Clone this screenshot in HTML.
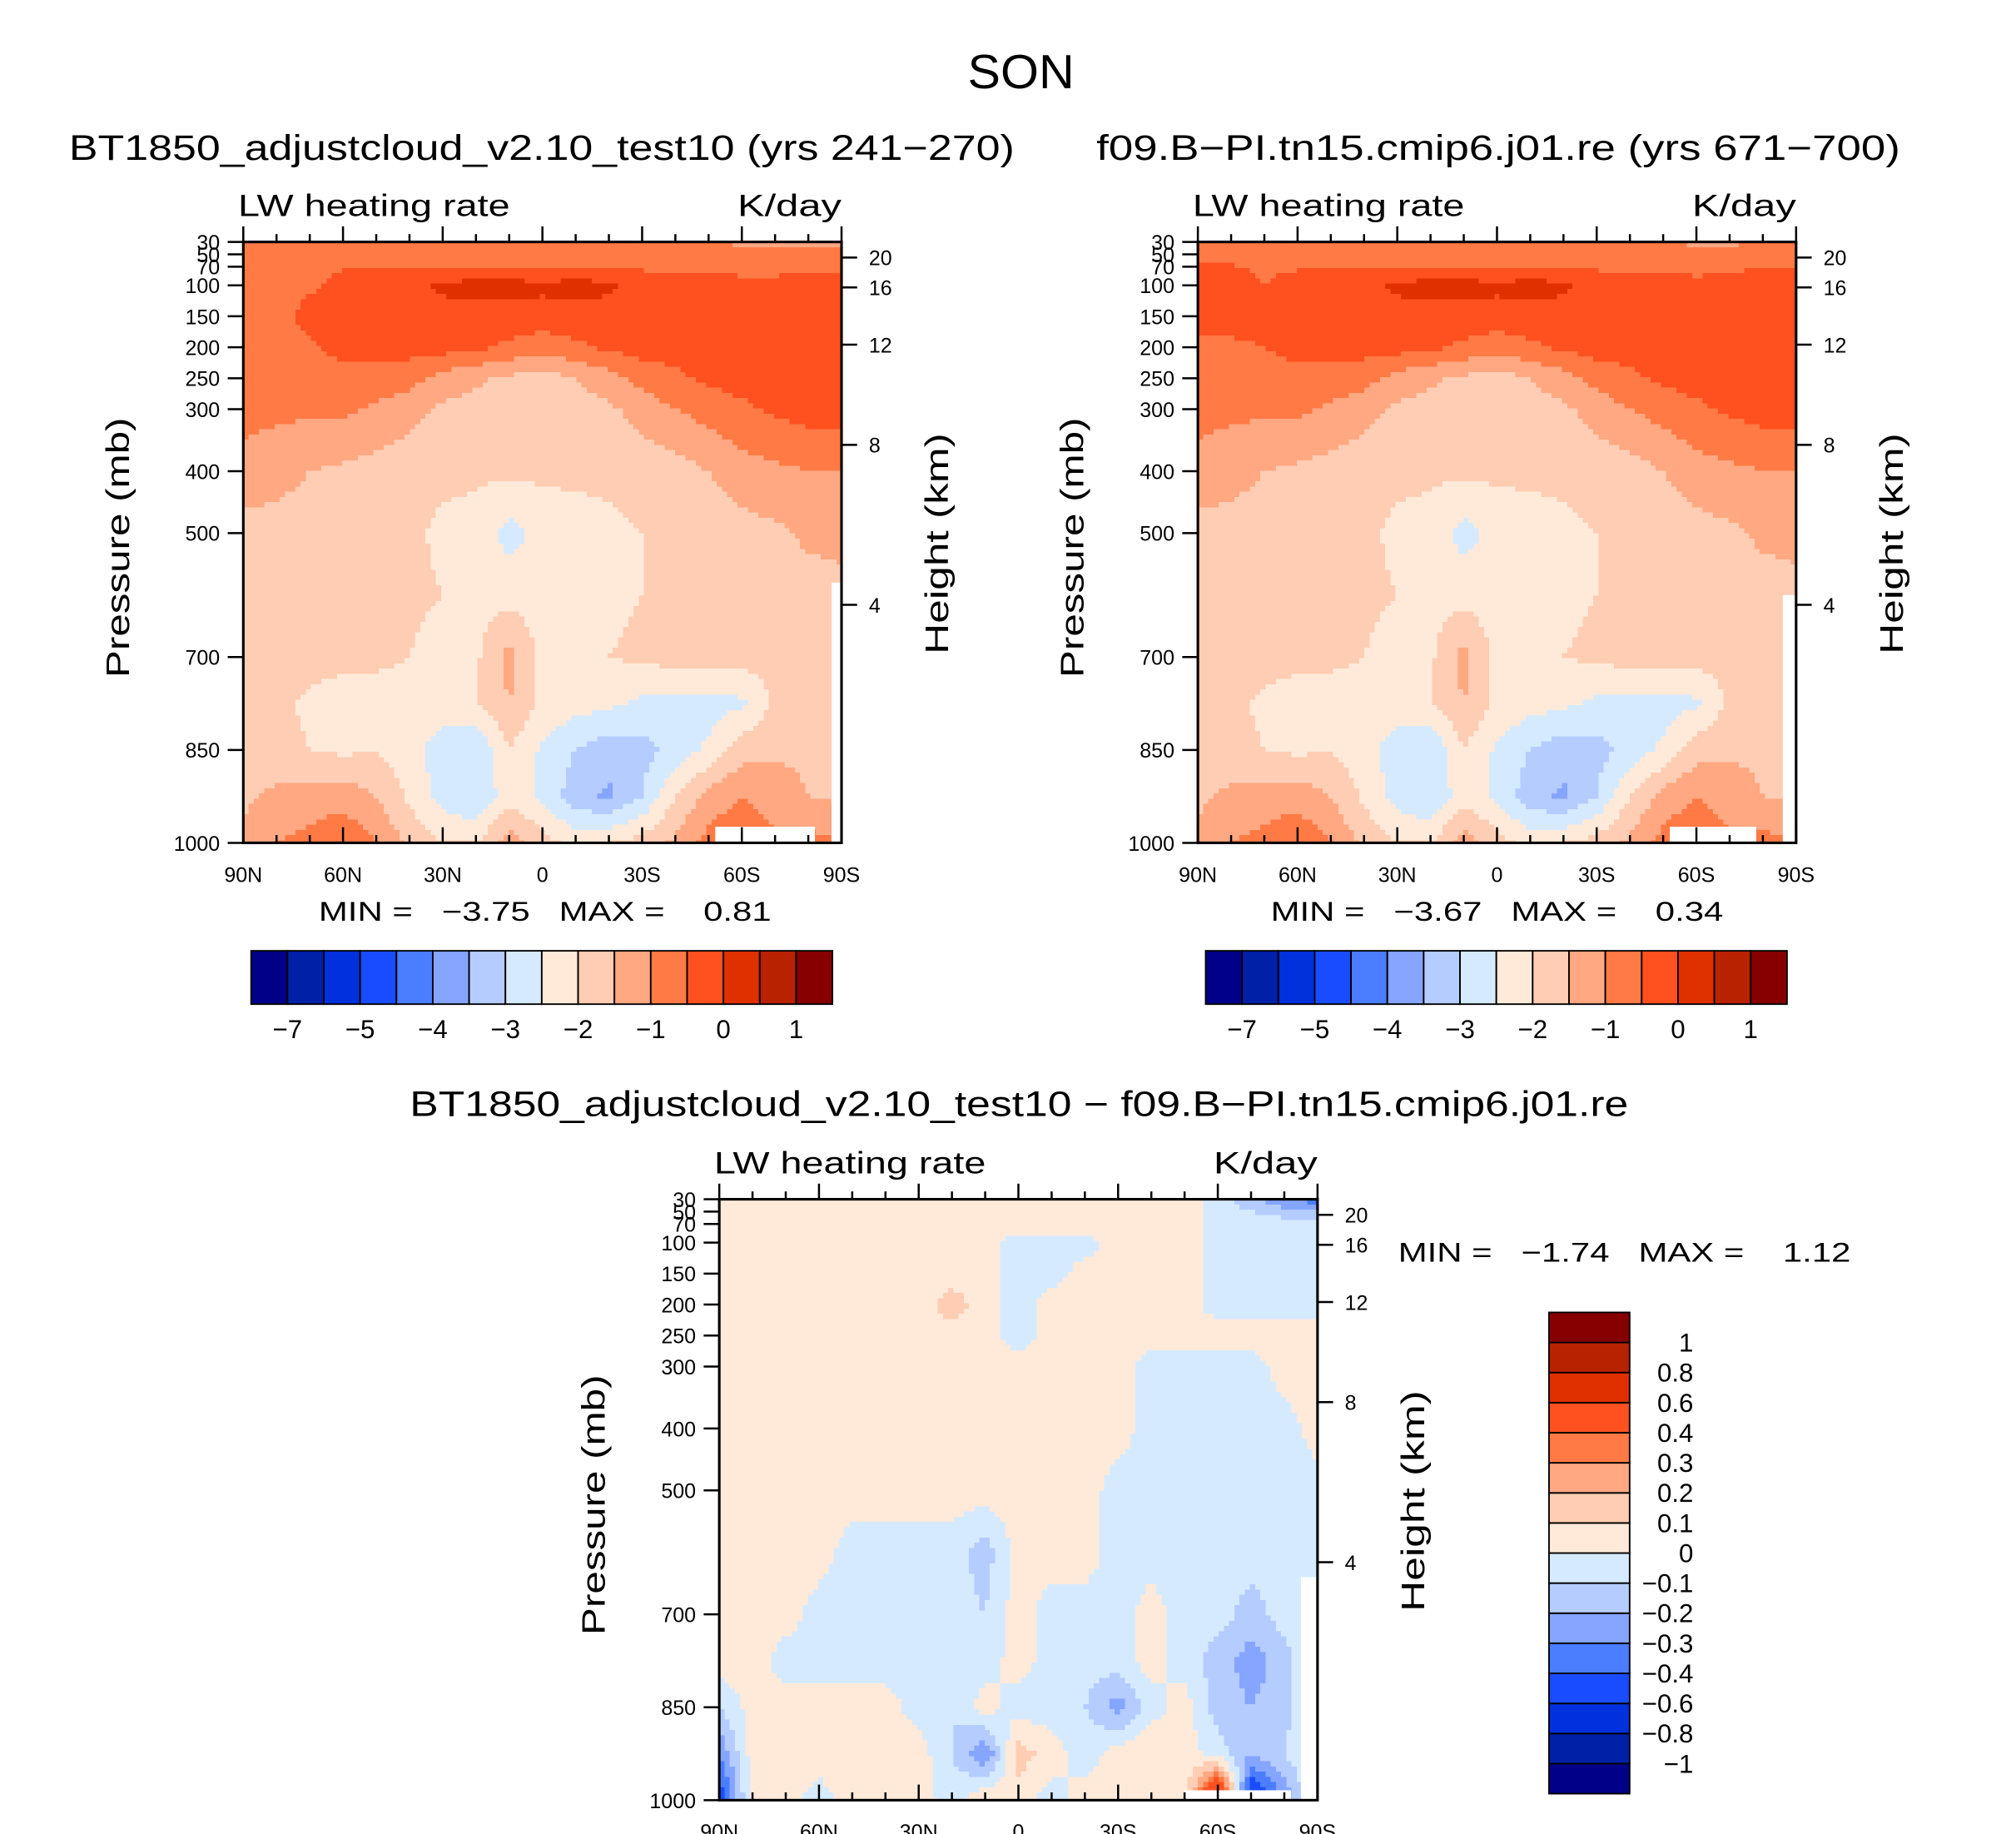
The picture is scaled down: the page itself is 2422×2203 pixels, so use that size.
<!DOCTYPE html>
<html><head><meta charset="utf-8"><style>
html,body{margin:0;padding:0;background:#fff}
svg{display:block}
text{font-family:"Liberation Sans",sans-serif;fill:#000}
.pre{white-space:pre}
</style></head><body>
<svg id="fig" width="2422" height="2203" viewBox="0 0 1550 1410" xmlns="http://www.w3.org/2000/svg">
<rect width="1550" height="1410" fill="#fff"/>
<text x="744" y="68" font-size="37" textLength="82" lengthAdjust="spacingAndGlyphs">SON</text>
<g id="root"></g>
</svg>
<script>
const lats=[90,80,70,60,50,40,30,20,10,0,-10,-20,-30,-40,-50,-60,-70,-80,-90];
const plevs=[30,50,70,100,150,200,250,300,400,500,600,700,775,850,925,1000];
const colors=["#000088","#0020a8","#0031dc","#1a4cff","#4a7dff","#85a5ff","#b4ccff","#d6eaff","#ffeada","#ffcdb3","#ffa882","#ff7a45","#ff5020","#e03000","#b82200","#870000"];
const levelsAbs=[-7,-6,-5,-4.5,-4,-3.5,-3,-2.5,-2,-1.5,-1,-0.5,0,0.5,1];
const absLabels=["−7","−5","−4","−3","−2","−1","0","1"];
const levelsDiff=[-1,-0.8,-0.6,-0.4,-0.3,-0.2,-0.1,0,0.1,0.2,0.3,0.4,0.6,0.8,1];
const diffLabels=["−1","−0.8","−0.6","−0.4","−0.3","−0.2","−0.1","0","0.1","0.2","0.3","0.4","0.6","0.8","1"];
const pTicks=[30,50,70,100,150,200,250,300,400,500,700,850,1000];
const hTicks=[[20,198],[16,221],[12,265],[8,342],[4,465]];
const latTickLabels=["90N","60N","30N","0","30S","60S","90S"];
// panel 1 field (K/day), rows = plevs, cols = lats
const fieldA=[
[-0.8,-0.8,-0.8,-0.8,-0.8,-0.8,-0.8,-0.8,-0.8,-0.8,-0.8,-0.8,-0.8,-0.8,-0.9,-1.1,-1.1,-1.1,-1.1],
[-0.7,-0.7,-0.7,-0.7,-0.7,-0.7,-0.7,-0.7,-0.7,-0.7,-0.7,-0.7,-0.7,-0.7,-0.8,-0.9,-0.9,-0.8,-0.8],
[-0.7,-0.7,-0.7,-0.55,-0.55,-0.55,-0.5,-0.5,-0.5,-0.5,-0.5,-0.5,-0.55,-0.6,-0.6,-0.7,-0.7,-0.6,-0.6],
[-0.7,-0.7,-0.6,-0.3,-0.3,-0.2,0.1,0.2,0.2,0.1,0.2,0.1,-0.3,-0.3,-0.3,-0.3,-0.3,-0.3,-0.3],
[-0.7,-0.7,-0.3,-0.3,-0.3,-0.2,-0.2,-0.2,-0.2,-0.2,-0.2,-0.2,-0.2,-0.3,-0.3,-0.3,-0.3,-0.3,-0.3],
[-0.7,-0.7,-0.6,-0.3,-0.3,-0.3,-0.3,-0.4,-0.6,-0.8,-0.6,-0.4,-0.3,-0.3,-0.3,-0.3,-0.3,-0.3,-0.3],
[-0.8,-0.8,-0.8,-0.7,-0.7,-0.8,-1.2,-1.4,-1.6,-1.7,-1.5,-1.2,-0.8,-0.6,-0.4,-0.3,-0.3,-0.3,-0.3],
[-0.8,-0.9,-0.9,-0.9,-1.1,-1.3,-1.6,-1.7,-1.8,-1.8,-1.7,-1.6,-1.3,-1.0,-0.8,-0.6,-0.4,-0.3,-0.3],
[-1.2,-1.3,-1.5,-1.6,-1.7,-1.8,-1.9,-1.9,-1.9,-1.9,-1.9,-1.9,-1.8,-1.7,-1.5,-1.2,-1.1,-1.0,-1.0],
[-1.7,-1.7,-1.8,-1.8,-1.8,-1.9,-2.1,-2.2,-2.7,-2.3,-2.2,-2.1,-2.0,-1.9,-1.8,-1.7,-1.6,-1.4,-1.4],
[-1.8,-1.8,-1.8,-1.8,-1.8,-1.9,-2.0,-2.2,-2.2,-2.2,-2.2,-2.1,-2.0,-1.9,-1.8,-1.8,-1.8,-1.7,-1.6],
[-1.8,-1.8,-1.8,-1.9,-1.9,-2.0,-2.2,-2.1,-1.3,-2.2,-2.1,-2.0,-1.9,-1.8,-1.8,-1.8,-1.8,-1.8,-1.8],
[-1.8,-1.9,-2.1,-2.2,-2.2,-2.2,-2.2,-2.0,-1.5,-2.1,-2.3,-2.4,-2.6,-2.7,-2.7,-2.6,-1.9,-1.8,-1.8],
[-1.7,-1.8,-2.0,-2.1,-2.0,-2.3,-2.8,-3.0,-2.0,-2.6,-3.0,-3.3,-3.2,-2.8,-2.4,-1.7,-1.6,-1.6,-1.6],
[-1.6,-1.4,-1.3,-1.2,-1.5,-2.1,-2.7,-3.0,-2.2,-2.6,-3.3,-3.6,-3.0,-2.0,-1.3,-1.0,-1.2,-1.5,-1.6],
[-1.4,-1.0,-0.8,-0.6,-1.0,-1.6,-2.0,-2.0,-1.2,-1.8,-2.2,-2.0,-1.8,-1.4,-0.8,-0.6,-0.9,-0.8,-1.0]];
// panel 2 field (K/day)
const fieldB=[
[-0.8,-0.8,-0.8,-0.8,-0.8,-0.8,-0.8,-0.8,-0.8,-0.8,-0.8,-0.8,-0.8,-0.8,-0.9,-1.1,-1.1,-0.9,-0.8],
[-0.7,-0.7,-0.7,-0.7,-0.7,-0.7,-0.7,-0.7,-0.7,-0.7,-0.7,-0.7,-0.7,-0.7,-0.8,-0.9,-0.8,-0.7,-0.7],
[-0.45,-0.45,-0.6,-0.55,-0.55,-0.55,-0.5,-0.5,-0.5,-0.5,-0.5,-0.5,-0.55,-0.6,-0.6,-0.7,-0.6,-0.5,-0.5],
[-0.3,-0.3,-0.5,-0.3,-0.3,-0.2,0.1,0.2,0.2,0.1,0.2,0.1,-0.3,-0.3,-0.3,-0.3,-0.3,-0.3,-0.3],
[-0.3,-0.3,-0.3,-0.3,-0.3,-0.2,-0.2,-0.2,-0.2,-0.2,-0.2,-0.2,-0.2,-0.3,-0.3,-0.3,-0.3,-0.3,-0.3],
[-0.6,-0.6,-0.5,-0.3,-0.3,-0.3,-0.3,-0.4,-0.6,-0.8,-0.6,-0.4,-0.3,-0.3,-0.3,-0.3,-0.3,-0.3,-0.3],
[-0.8,-0.8,-0.8,-0.7,-0.7,-0.8,-1.2,-1.4,-1.6,-1.7,-1.5,-1.2,-0.8,-0.6,-0.4,-0.3,-0.3,-0.3,-0.3],
[-0.8,-0.9,-0.9,-0.9,-1.1,-1.3,-1.6,-1.7,-1.8,-1.8,-1.7,-1.6,-1.3,-1.0,-0.8,-0.6,-0.4,-0.3,-0.3],
[-1.2,-1.3,-1.5,-1.6,-1.7,-1.8,-1.9,-1.9,-1.9,-1.9,-1.9,-1.9,-1.8,-1.7,-1.5,-1.2,-1.1,-1.0,-1.0],
[-1.7,-1.7,-1.8,-1.8,-1.8,-1.9,-2.1,-2.2,-2.7,-2.3,-2.2,-2.1,-2.0,-1.9,-1.8,-1.7,-1.6,-1.4,-1.4],
[-1.8,-1.8,-1.8,-1.8,-1.8,-1.9,-2.0,-2.2,-2.2,-2.2,-2.2,-2.1,-2.0,-1.9,-1.8,-1.8,-1.8,-1.7,-1.6],
[-1.8,-1.8,-1.8,-1.9,-1.9,-2.0,-2.2,-2.1,-1.3,-2.2,-2.1,-2.0,-1.9,-1.8,-1.8,-1.8,-1.8,-1.8,-1.8],
[-1.8,-1.9,-2.1,-2.2,-2.2,-2.2,-2.2,-2.0,-1.5,-2.1,-2.3,-2.4,-2.6,-2.7,-2.7,-2.6,-1.9,-1.8,-1.8],
[-1.7,-1.8,-2.0,-2.1,-2.0,-2.3,-2.8,-3.0,-2.0,-2.6,-3.0,-3.3,-3.2,-2.8,-2.4,-1.7,-1.6,-1.6,-1.6],
[-1.6,-1.4,-1.3,-1.2,-1.5,-2.1,-2.7,-3.0,-2.2,-2.6,-3.3,-3.6,-3.0,-2.0,-1.3,-1.0,-1.2,-1.5,-1.6],
[-1.4,-1.0,-0.8,-0.6,-1.0,-1.6,-2.0,-2.0,-1.2,-1.8,-2.2,-2.0,-1.8,-1.4,-0.8,-0.6,-0.9,-0.8,-1.0]];
// difference field (K/day)
const fieldD=[
[0.05,0.05,0.05,0.05,0.05,0.05,0.05,0.05,0.05,0.05,0.05,0.05,0.05,0.05,0.05,-0.05,-0.15,-0.3,-0.35],
[0.05,0.05,0.05,0.05,0.05,0.05,0.05,0.05,0.05,0.05,0.05,0.05,0.05,0.05,0.05,-0.05,-0.1,-0.15,-0.2],
[0.05,0.05,0.05,0.05,0.05,0.05,0.05,0.05,0.05,0.05,0.05,0.05,0.05,0.05,0.05,-0.05,-0.05,-0.05,-0.05],
[0.05,0.05,0.05,0.05,0.05,0.05,0.05,0.05,0.05,-0.05,-0.05,-0.05,0.05,0.05,0.05,-0.05,-0.05,-0.05,-0.05],
[0.05,0.05,0.05,0.05,0.05,0.05,0.05,0.05,0.05,-0.05,-0.05,0.05,0.05,0.05,0.05,-0.05,-0.05,-0.05,-0.05],
[0.05,0.05,0.05,0.05,0.05,0.05,0.05,0.15,0.05,-0.05,0.05,0.05,0.05,0.05,0.05,-0.05,-0.05,-0.05,-0.05],
[0.05,0.05,0.05,0.05,0.05,0.05,0.05,0.05,0.05,-0.05,0.05,0.05,0.05,0.05,0.05,0.05,0.05,0.05,0.05],
[0.05,0.05,0.05,0.05,0.05,0.05,0.05,0.05,0.05,0.05,0.05,0.05,0.05,-0.05,-0.05,-0.05,-0.05,0.05,0.05],
[0.05,0.05,0.05,0.05,0.05,0.05,0.05,0.05,0.05,0.05,0.05,0.05,0.05,-0.05,-0.05,-0.05,-0.05,-0.05,0.05],
[0.05,0.05,0.05,0.05,0.05,0.05,0.05,0.05,0.05,0.05,0.05,0.05,-0.05,-0.05,-0.05,-0.05,-0.05,-0.05,-0.05],
[0.05,0.05,0.05,0.05,-0.05,-0.05,-0.05,-0.05,-0.15,0.05,0.05,0.05,-0.05,-0.05,-0.05,-0.05,-0.05,-0.05,-0.05],
[0.05,0.05,0.05,-0.05,-0.05,-0.05,-0.05,-0.05,-0.1,0.05,-0.05,-0.05,-0.05,0.05,-0.05,-0.05,-0.15,-0.05,-0.05],
[0.05,0.05,-0.05,-0.05,-0.05,-0.05,-0.05,-0.05,-0.05,0.05,-0.05,-0.05,-0.05,0.05,-0.05,-0.15,-0.25,-0.15,0.05],
[-0.1,0.05,0.05,0.05,0.05,0.05,-0.05,-0.1,0.05,-0.05,-0.05,-0.1,-0.25,-0.05,0.05,-0.15,-0.2,-0.15,0.05],
[-0.3,0.05,0.05,0.05,0.1,0.05,0.05,-0.1,-0.3,0.15,0.05,-0.05,0.05,0.1,0.05,-0.05,-0.2,-0.1,0.05],
[-0.5,0.05,0.05,-0.05,0.05,0.1,0.05,-0.05,0.1,0.05,-0.05,0.05,0.05,0.05,0.05,0.8,-0.6,-0.3,0.05]];

const NS="http://www.w3.org/2000/svg";
const root=document.getElementById('root');
function mk(tag,attrs,parent,txt){const e=document.createElementNS(NS,tag);for(const k in attrs)e.setAttribute(k,attrs[k]);if(txt!==undefined)e.textContent=txt;(parent||root).appendChild(e);return e;}
function colorIdx(v,levels){let i=0;while(i<levels.length&&v>=levels[i])i++;return i;}
function sample(field,latv,p){
  let fi=(90-latv)/10;fi=Math.max(0,Math.min(17.9999,fi));const i0=Math.floor(fi),fx=fi-i0;
  let j0=0;while(j0<plevs.length-2&&p>plevs[j0+1])j0++;
  let fy=(p-plevs[j0])/(plevs[j0+1]-plevs[j0]);fy=Math.max(0,Math.min(1,fy));
  const a=field[j0][i0],b=field[j0][i0+1],c=field[j0+1][i0],d=field[j0+1][i0+1];
  return (a*(1-fx)+b*fx)*(1-fy)+(c*(1-fx)+d*fx)*fy;
}
function panel(name,x0,y0,field,levels,opts){
  const W=460,H=462;
  const g=mk('g',{});
  
  
  const xs=lat=>x0+(90-lat)/180*W;
  const ys=p=>y0+(p-30)/970*H;
  const step=4;
  const fg=mk('g',{'shape-rendering':'crispEdges'},g);
  
  
  for(let py=0;py<H;py+=step){
    const p=30+(py+step/2)/H*970;
    let runStart=0,runC=-1;
    for(let px=0;px<=W;px+=step){
      let c=-2;
      if(px<W){const lat=90-(px+step/2)/W*180;c=colorIdx(sample(field,lat,p),levels);}
      if(c!==runC){
        if(runC>=0){const r=mk('rect',{x:x0+runStart,y:y0+py,width:Math.min(px,W)-runStart+0.6,height:Math.min(step,H-py)+0.6,fill:colors[runC]},fg);
          
          }
        runStart=px;runC=c;}
    }
  }
  (opts.masks||[]).forEach(m=>{const r=mk('rect',{x:xs(m[0]),y:ys(m[2]),width:xs(m[1])-xs(m[0]),height:ys(1000)-ys(m[2]),fill:'#fff'},g);
    
    });
  const fr=mk('rect',{x:x0,y:y0,width:W,height:H,fill:'none',stroke:'#000','stroke-width':2},g);
  
  
  for(let lat=90;lat>=-90;lat-=10){
    const major=lat%30===0,len=major?12:6,x=xs(lat);
    mk('line',{x1:x,x2:x,y1:y0+H,y2:y0+H-len,stroke:'#000','stroke-width':1.6},g);
    mk('line',{x1:x,x2:x,y1:y0,y2:y0-len,stroke:'#000','stroke-width':1.6},g);
  }
  latTickLabels.forEach((t,i)=>{const e=mk('text',{x:xs(90-30*i),y:y0+H+30,'font-size':16,'text-anchor':'middle'},g,t);
    
    });
  pTicks.forEach(p=>{const y=ys(p);mk('line',{x1:x0,x2:x0-12,y1:y,y2:y,stroke:'#000','stroke-width':1.6},g);
    const e=mk('text',{x:x0-18,y:y+6,'font-size':16,'text-anchor':'end'},g,String(p));
    
    });
  hTicks.forEach(h=>{const y=y0+(h[1]-186);mk('line',{x1:x0+W,x2:x0+W+12,y1:y,y2:y,stroke:'#000','stroke-width':1.6},g);
    const e=mk('text',{x:x0+W+21,y:y+6,'font-size':16},g,String(h[0]));
    
    });
  let e=mk('text',{x:x0-4,y:y0-20,'font-size':24,textLength:209,lengthAdjust:'spacingAndGlyphs'},g,'LW heating rate');
  
  
  e=mk('text',{x:x0+W-80,y:y0-20,'font-size':24,textLength:80,lengthAdjust:'spacingAndGlyphs'},g,'K/day');
  
  
  e=mk('text',{x:-100,y:0,'font-size':25,textLength:200,lengthAdjust:'spacingAndGlyphs',transform:`translate(${x0-88},${y0+235}) rotate(-90)`},g,'Pressure  (mb)');
  
  
  e=mk('text',{x:-85,y:0,'font-size':25,textLength:170,lengthAdjust:'spacingAndGlyphs',transform:`translate(${x0+W+82},${y0+232}) rotate(-90)`},g,'Height  (km)');
  
  
  e=mk('text',{x:opts.tx,y:opts.ty,'font-size':27,textLength:opts.tw,lengthAdjust:'spacingAndGlyphs'},g,opts.title);
  
  
  e=mk('text',{x:opts.mx,y:opts.my,'font-size':21,'class':'pre',textLength:348,lengthAdjust:'spacingAndGlyphs'},g,opts.minmax);
  
  
}
function hbar(name,x0,y0){
  const g=mk('g',{});
  
  
  const bw=447/16;
  colors.forEach((c,i)=>{const r=mk('rect',{x:x0+i*bw,y:y0,width:bw,height:41,fill:c,stroke:'#000','stroke-width':1.2},g);
    
    });
  absLabels.forEach((t,k)=>{const i=2*k+1;const e=mk('text',{x:x0+i*bw,y:y0+67,'font-size':20,'text-anchor':'middle'},g,t);
    
    });
}
function vbar(name,x0,y0){
  const g=mk('g',{});
  
  
  const bh=370/16;
  colors.forEach((c,i)=>{const r=mk('rect',{x:x0,y:y0+(15-i)*bh,width:62,height:bh,fill:c,stroke:'#000','stroke-width':1.2},g);
    
    });
  diffLabels.forEach((t,i)=>{const e=mk('text',{x:x0+111,y:y0+(15-i)*bh+7,'font-size':20,'text-anchor':'end'},g,t);
    
    });
}
panel('panel-test10',187,186,fieldA,levelsAbs,{title:'BT1850_adjustcloud_v2.10_test10 (yrs 241−270)',tx:53,ty:123,tw:727,minmax:'MIN =   −3.75   MAX =    0.81',mx:245,my:708,masks:[[-52,-82,1000-26],[-87,-90,580]]});
hbar('colorbar-top-left',193,731);
panel('panel-f09',921,186,fieldB,levelsAbs,{title:'f09.B−PI.tn15.cmip6.j01.re (yrs 671−700)',tx:843,ty:123,tw:618,minmax:'MIN =   −3.67   MAX =    0.34',mx:977,my:708,masks:[[-52,-78,1000-26],[-86,-90,600]]});
hbar('colorbar-top-right',927,731);
panel('panel-difference',553,922,fieldD,levelsDiff,{title:'BT1850_adjustcloud_v2.10_test10 − f09.B−PI.tn15.cmip6.j01.re',tx:315,ty:858,tw:937,minmax:'MIN =   −1.74   MAX =    1.12',mx:1075,my:970,masks:[[-50,-82,1000-16],[-85,-90,640]]});
vbar('colorbar-difference',1191,1009);
</script>
</body></html>
